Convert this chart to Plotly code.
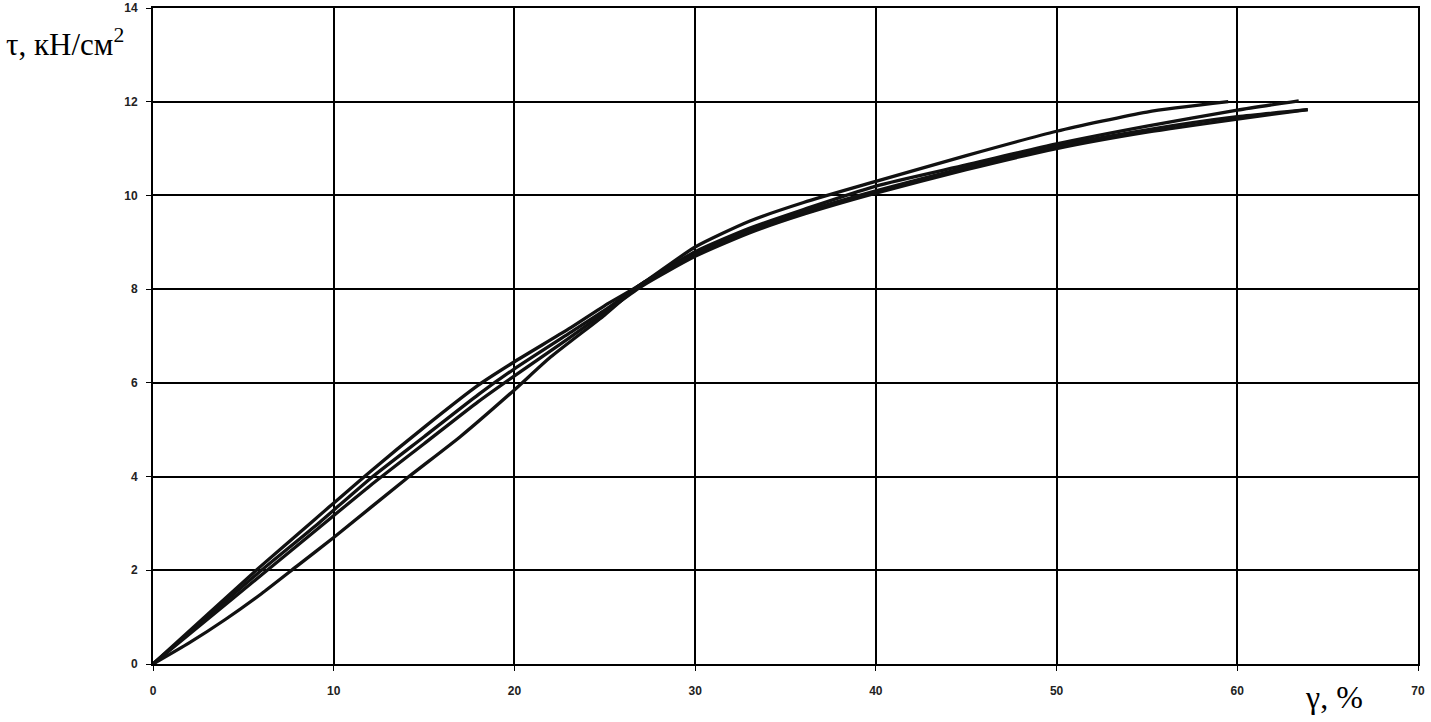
import plotly.graph_objects as go

# shear strain gamma (%) and shear stress tau (kN/cm2), four test curves
gamma_1 = [0, 3, 6, 9, 12, 15, 18, 20, 23, 25, 27, 30, 33, 36, 40, 45, 50, 55, 59.5]
tau_1 = [0, 1.05, 2.1, 3.1, 4.1, 5.05, 5.95, 6.45, 7.15, 7.65, 8.1, 8.9, 9.45, 9.85, 10.3, 10.85, 11.37, 11.78, 12.0]

gamma_2 = [0, 3, 6, 9, 12, 15, 18, 20, 23, 25, 27, 30, 33, 36, 40, 45, 50, 55, 60, 63.4]
tau_2 = [0, 1.0, 2.0, 2.95, 3.95, 4.85, 5.75, 6.3, 7.05, 7.55, 8.1, 8.8, 9.3, 9.7, 10.2, 10.65, 11.1, 11.48, 11.82, 12.02]

gamma_3 = [0, 3, 6, 9, 12, 15, 18, 20, 23, 25, 27, 30, 33, 36, 40, 45, 50, 55, 60, 63.9]
tau_3 = [0, 0.95, 1.9, 2.85, 3.8, 4.7, 5.6, 6.15, 6.95, 7.5, 8.05, 8.7, 9.2, 9.6, 10.05, 10.55, 11.0, 11.35, 11.63, 11.83]

gamma_4 = [0, 2, 4, 6, 8, 10, 14, 17, 20, 22, 25, 27, 30, 33, 36, 40, 45, 50, 55, 60, 63.9]
tau_4 = [0, 0.45, 0.95, 1.5, 2.1, 2.7, 3.95, 4.85, 5.85, 6.55, 7.45, 8.1, 8.75, 9.25, 9.65, 10.1, 10.6, 11.05, 11.4, 11.68, 11.83]

x_ticks = [0, 10, 20, 30, 40, 50, 60, 70]
y_ticks = [0, 2, 4, 6, 8, 10, 12, 14]

fig = go.Figure()
for gx, ty in [(gamma_1, tau_1), (gamma_2, tau_2), (gamma_3, tau_3), (gamma_4, tau_4)]:
    fig.add_trace(go.Scatter(x=gx, y=ty, mode="lines",
                             line=dict(color="#111", width=3.3, shape="spline", smoothing=0.6),
                             showlegend=False, hoverinfo="skip"))

tick_font = dict(family="Liberation Sans", size=12, color="#222", weight="bold")
axis_common = dict(showgrid=True, gridcolor="#000", gridwidth=1.5, showline=True, linecolor="#000", linewidth=2,
                   mirror=True, ticks="outside", ticklen=5, tickcolor="#000", tickfont=tick_font,
                   zeroline=False, automargin=False)

fig.update_xaxes(range=[0, 70], tickvals=x_ticks, ticklabelstandoff=10, **axis_common)
fig.update_yaxes(range=[0, 14], tickvals=y_ticks, ticklabelstandoff=6, **axis_common)

# axis titles placed like the original, outside the plot corners
fig.add_annotation(text="τ, кН/см<sup>2</sup>", xref="paper", yref="paper", x=-0.118, y=0.948,
                   xanchor="left", yanchor="middle", showarrow=False,
                   font=dict(family="Liberation Serif", size=31, color="#000"))
fig.add_annotation(text="γ, %", xref="paper", yref="paper", x=0.909, y=-0.02,
                   xanchor="left", yanchor="top", showarrow=False,
                   font=dict(family="Liberation Serif", size=32, color="#000"))

fig.update_layout(width=1431, height=722, margin=dict(l=153, r=13, t=8, b=58),
                  plot_bgcolor="white", paper_bgcolor="white")

fig.write_html("out.html", config={"displayModeBar": False},
               post_script="document.body.style.margin='0';")
